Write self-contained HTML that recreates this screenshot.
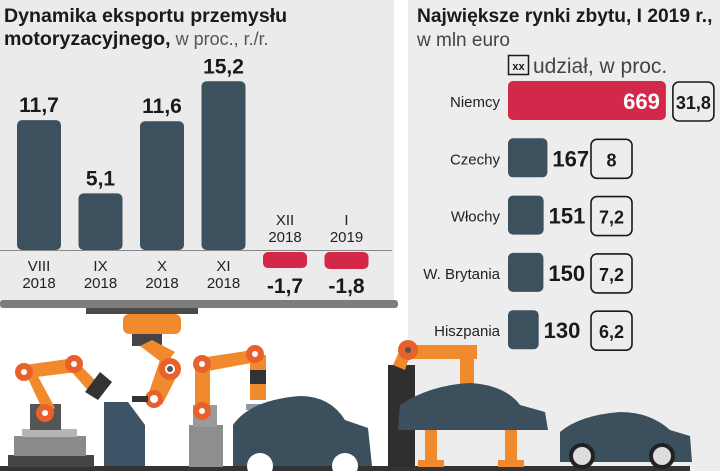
<!DOCTYPE html>
<html><head><meta charset="utf-8"><style>
body{margin:0;width:720px;height:471px;overflow:hidden;background:#fff;font-family:"Liberation Sans",sans-serif;position:relative}
svg{position:absolute;left:0;top:0}
</style></head><body>
<svg width="720" height="471" viewBox="0 0 720 471">
  <rect x="0" y="0" width="394" height="302" fill="#ebebeb"/>
  <rect x="408" y="0" width="312" height="471" fill="#ededed"/>
  <rect x="0" y="300" width="398" height="8" rx="3" fill="#7d7d7d"/>
  <rect x="86" y="308" width="112" height="6" fill="#4a4a4a"/>

  <text x="4" y="22" font-size="19.6" font-weight="bold" fill="#1a1a1a">Dynamika eksportu przemysłu</text>
  <text x="4" y="45" font-size="19.6" fill="#1a1a1a"><tspan font-weight="bold">motoryzacyjnego,</tspan><tspan fill="#555" font-size="18"> w proc., r./r.</tspan></text>
  <line x1="0" y1="250.5" x2="392" y2="250.5" stroke="#888" stroke-width="1"/>
  <g id="leftbars"></g>

  <text x="417" y="22" font-size="19.2" font-weight="bold" fill="#1a1a1a">Największe rynki zbytu, I 2019 r.,</text>
  <text x="417" y="46" font-size="19" fill="#444">w mln euro</text>
  <rect x="508.5" y="55.5" width="20" height="19" fill="none" stroke="#1a1a1a" stroke-width="1.5"/>
  <text x="518.5" y="70" font-size="11" font-weight="bold" text-anchor="middle" fill="#1a1a1a">xx</text>
  <text x="533" y="73" font-size="21" fill="#444">udział, w proc.</text>
  <g id="rightbars"></g>

  <g>
    <rect x="0" y="466" width="690" height="5" fill="#333"/>
    <rect x="8" y="455" width="86" height="12" fill="#444"/>
    <rect x="14" y="436" width="72" height="20" fill="#8a8a8a"/>
    <rect x="22" y="429" width="55" height="8" fill="#b5b5b5"/>
    <rect x="30" y="404" width="31" height="26" fill="#555"/>
    <path d="M25 372 L45 415 L55 408 L32 365Z" fill="#f08a2c"/>
    <path d="M25 365 L75 358 L77 372 L28 378Z" fill="#f08a2c"/>
    <path d="M75 360 L100 385 L92 395 L70 370Z" fill="#f08a2c"/>
    <circle cx="24" cy="372" r="9" fill="#e8612a"/><circle cx="24" cy="372" r="3" fill="#fff"/>
    <circle cx="74" cy="364" r="9" fill="#e8612a"/><circle cx="74" cy="364" r="3" fill="#fff"/>
    <circle cx="45" cy="413" r="9" fill="#e8612a"/><circle cx="45" cy="413" r="3" fill="#fff"/>
    <path d="M85 392 L100 372 L112 382 L98 400Z" fill="#333"/>
    <path d="M104 466 L104 402 L128 402 L145 425 L145 466Z" fill="#3d5566"/>
    <rect x="123" y="314" width="58" height="20" rx="6" fill="#f08a2c"/>
    <rect x="132" y="334" width="30" height="12" fill="#444"/>
    <path d="M140 346 L165 365 L175 352 L152 340Z" fill="#f08a2c"/>
    <path d="M160 360 L180 370 L162 405 L148 395Z" fill="#f08a2c"/>
    <circle cx="170" cy="369" r="11" fill="#e8612a"/><circle cx="170" cy="369" r="5" fill="#fff"/><circle cx="170" cy="369" r="3" fill="#555"/>
    <circle cx="154" cy="399" r="9" fill="#e8612a"/><circle cx="154" cy="399" r="4" fill="#fff"/>
    <rect x="132" y="396" width="16" height="6" fill="#333"/>
    <rect x="189" y="425" width="34" height="42" fill="#8e8e8e"/>
    <rect x="193" y="405" width="24" height="22" fill="#9a9a9a"/>
    <path d="M195 365 L210 365 L210 412 L195 412Z" fill="#f08a2c"/>
    <path d="M200 358 L253 350 L256 362 L203 372Z" fill="#f08a2c"/>
    <rect x="250" y="355" width="16" height="45" fill="#f08a2c"/>
    <rect x="250" y="370" width="16" height="14" fill="#333"/>
    <circle cx="202" cy="364" r="9" fill="#e8612a"/><circle cx="202" cy="364" r="3" fill="#fff"/>
    <circle cx="255" cy="354" r="9" fill="#e8612a"/><circle cx="255" cy="354" r="3" fill="#fff"/>
    <circle cx="202" cy="411" r="9" fill="#e8612a"/><circle cx="202" cy="411" r="3" fill="#fff"/>
    <rect x="246" y="404" width="40" height="6" fill="#8a98a2"/>
    <path d="M233 466 L233 425 Q250 400 300 396 Q330 396 345 420 L368 428 L372 466Z" fill="#3b4f5c"/>
    <circle cx="260" cy="466" r="13" fill="#fff"/><circle cx="345" cy="466" r="13" fill="#fff"/>
    <rect x="388" y="365" width="27" height="102" fill="#2f2f2f"/>
    <path d="M393 365 L402 345 L412 350 L405 370Z" fill="#f08a2c"/>
    <rect x="402" y="345" width="75" height="14" fill="#f08a2c"/>
    <rect x="460" y="345" width="14" height="40" fill="#f08a2c"/>
    <circle cx="408" cy="350" r="10" fill="#e8612a"/><circle cx="408" cy="350" r="3" fill="#555"/>
    <rect x="425" y="410" width="12" height="57" fill="#f08a2c"/><rect x="505" y="410" width="12" height="57" fill="#f08a2c"/>
    <rect x="418" y="460" width="26" height="7" fill="#f08a2c"/><rect x="498" y="460" width="26" height="7" fill="#f08a2c"/>
    <path d="M398 430 L400 405 Q430 385 470 383 Q505 385 520 405 L545 412 L548 430Z" fill="#3b4f5c"/>
    <path d="M560 462 L560 432 Q580 415 620 412 Q650 412 670 430 L690 436 L692 462Z" fill="#3b4f5c"/>
    <circle cx="582" cy="456" r="11" fill="#ddd" stroke="#222" stroke-width="4"/><circle cx="662" cy="456" r="11" fill="#ddd" stroke="#222" stroke-width="4"/>
  </g>
</svg>
<script>
const months = ["VIII","IX","X","XI","XII","I"];
const years = ["2018","2018","2018","2018","2018","2019"];
const growth = [11.7, 5.1, 11.6, 15.2, -1.7, -1.8];
const growthLabels = ["11,7","5,1","11,6","15,2","-1,7","-1,8"];

const countries = ["Niemcy","Czechy","Włochy","W. Brytania","Hiszpania"];
const exportsVal = [669, 167, 151, 150, 130];
const shares = ["31,8","8","7,2","7,2","6,2"];

const NS = "http://www.w3.org/2000/svg";
function mk(tag, attrs, parent){const e=document.createElementNS(NS,tag);for(const k in attrs)e.setAttribute(k,attrs[k]);parent.appendChild(e);return e;}

const base = 250, scaleY = v => base - v*11.1;
const bandX = i => 17 + i*61.5, barW = 44;
const lg = document.getElementById('leftbars');
growth.forEach((v,i)=>{
  const x = bandX(i), cx = x + barW/2;
  let r;
  if (v >= 0) {
    r = mk('rect',{x:x,y:scaleY(v),width:barW,height:base-scaleY(v),rx:5,fill:'#3c505e'},lg);
  } else {
    r = mk('rect',{x:x,y:base+2,width:barW,height:(scaleY(v)-base)*0.85,rx:5,fill:'#d3284a'},lg);
  }
  
  
  const vt = mk('text',{x:cx,y: v>=0 ? scaleY(v)-8 : 293,'font-size':21,'font-weight':'bold','text-anchor':'middle',fill:'#1a1a1a'},lg);
  vt.textContent = growthLabels[i];
  
  
  const ly = v>=0 ? 271 : 225;
  const t1 = mk('text',{x:cx,y:ly,'font-size':15,'text-anchor':'middle',fill:'#222'},lg);
  t1.textContent = months[i];
  
  
  const t2 = mk('text',{x:cx,y:ly+17,'font-size':15,'text-anchor':'middle',fill:'#222'},lg);
  t2.textContent = years[i];
  
  
});

const x0 = 508, scaleX = v => v*0.236;
const rowY = i => 81 + i*57.3, barH = 39;
const rg = document.getElementById('rightbars');
countries.forEach((c,i)=>{
  const y = rowY(i), w = scaleX(exportsVal[i]);
  const r = mk('rect',{x:x0,y:y,width:w,height:barH,rx:5,fill:i===0?'#d3284a':'#3c505e'},rg);
  
  
  const cl = mk('text',{x:x0-8,y:y+26,'font-size':15,'text-anchor':'end',fill:'#222'},rg);
  cl.textContent = c;
  
  
  const inside = i===0;
  const vt = mk('text',{x:inside?x0+w-6:x0+w+5,y:y+28,'font-size':22,'font-weight':'bold','text-anchor':inside?'end':'start',fill:inside?'#fff':'#1a1a1a'},rg);
  vt.textContent = exportsVal[i];
  
  
  const bx = inside ? x0+w+7 : 591;
  const b = mk('rect',{x:bx,y:y+1,width:41,height:barH,rx:6,fill:'none',stroke:'#1a1a1a','stroke-width':1.6},rg);
  
  
  const st = mk('text',{x:bx+20.5,y:y+28,'font-size':18,'font-weight':'bold','text-anchor':'middle',fill:'#1a1a1a'},rg);
  st.textContent = shares[i];
  
  
});
</script>
</body></html>
